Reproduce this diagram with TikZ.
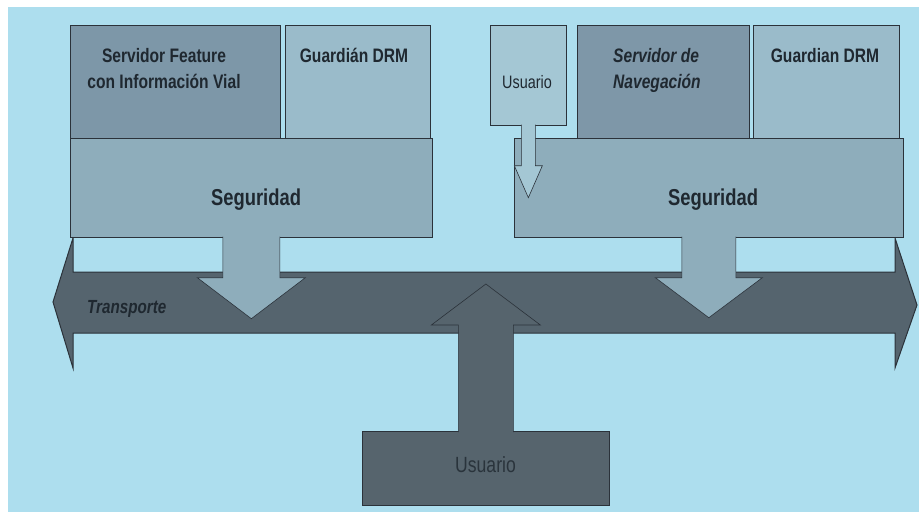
\documentclass[tikz,border=0pt]{standalone}
\usepackage{fontspec}
\setmainfont[FakeStretch=0.8]{Liberation Sans}
\usetikzlibrary{positioning,calc}

\definecolor{fondo}{HTML}{ADDEEE}
\definecolor{transporte}{HTML}{55646E}
\definecolor{seguridad}{HTML}{8EADBB}
\definecolor{feature}{HTML}{7D97A8}
\definecolor{guardian}{HTML}{9ABBCA}
\definecolor{navega}{HTML}{7E97A8}
\definecolor{usuarioS}{HTML}{A4C7D4}
\definecolor{usuarioB}{HTML}{56646D}
\definecolor{borde}{HTML}{2B323A}
\definecolor{letra}{HTML}{1F2830}

\tikzset{
  caja/.style={draw=borde, line width=0.7pt, anchor=north west, inner sep=0pt},
  etiq/.style={text=letra, inner sep=0pt, align=center,
    font=\fontsize{19.5}{26}\selectfont\bfseries},
  etiqseg/.style={text=letra, inner sep=0pt, anchor=base,
    font=\fontsize{23}{27}\selectfont\bfseries},
  flecha/.style={draw=borde, line width=0.6pt},
}

\begin{document}
\begin{tikzpicture}[x=1pt, y=-1pt]
  % fondo
  \useasboundingbox (0,0) rectangle (919,512);
  \fill[white] (0,0) rectangle (919,512);
  \fill[fondo] (8,7) rectangle (919,512);

  % transporte
  \filldraw[fill=transporte, draw=borde, line width=1pt]
    (73,272) -- (895,272) -- (895,238) -- (917,305) -- (895,368)
    -- (895,333) -- (73,333) -- (73,368) -- (53,302) -- (73,238) -- cycle;
  \node[text=letra, inner sep=0pt, anchor=base west,
    font=\fontsize{19}{22}\selectfont\bfseries\itshape] (transp) at (87,313) {Transporte};

  % usuario abajo
  \node[caja, fill=usuarioB, minimum width=247pt, minimum height=74pt] (usrB) at (362,431) {};
  \filldraw[flecha, fill=usuarioB] ([xshift=-27.5pt,yshift=-1pt]usrB.north) -- ++(0,-107)
    -- ++(-27,0) -- ++(54.5,-41) -- ++(54.5,41) -- ++(-27,0) -- ++(0,107);
  \node[text=letra!80!usuarioB, inner sep=0pt, anchor=base,
    font=\fontsize{22}{26}\selectfont] (usrBlbl) at (485.5,472) {Usuario};

  % bloque izquierdo
  \node[caja, fill=feature, minimum width=210pt, minimum height=113pt] (feat) at (70,25) {};
  \node[caja, fill=guardian, minimum width=145pt, minimum height=113pt] (guardL) at (285,25) {};
  \node[caja, fill=seguridad, minimum width=362pt, minimum height=99pt] (segL) at (70,138) {};
  \node[etiq, anchor=north] (featlbl) at (164,48) {Servidor Feature\\con Información Vial};
  \node[etiq, anchor=north] (guardLlbl) at (354,48) {Guardián DRM};
  \node[etiqseg] (segLlbl) at (256,205) {Seguridad};
  \filldraw[flecha, fill=seguridad] ([xshift=-28.5pt,yshift=1pt]segL.south) -- ++(0,41)
    -- ++(-25.5,0) -- ++(54,41) -- ++(54,-41) -- ++(-25.5,0) -- ++(0,-41);

  % bloque derecho
  \node[caja, fill=usuarioS, minimum width=76pt, minimum height=100pt] (usrS) at (490,25) {};
  \node[caja, fill=navega, minimum width=172pt, minimum height=113pt] (nav) at (577,25) {};
  \node[caja, fill=guardian, minimum width=146pt, minimum height=113pt] (guardR) at (753,25) {};
  \node[caja, fill=seguridad, minimum width=389pt, minimum height=99pt] (segR) at (514,138) {};
  \node[text=letra, inner sep=0pt, font=\fontsize{18}{22}\selectfont] (usrSlbl) at (527,82) {Usuario};
  \node[etiq, anchor=north west, align=left, font=\fontsize{19.5}{26}\selectfont\bfseries\itshape]
    (navlbl) at (613,48) {Servidor de\\Navegación};
  \node[etiq, anchor=north] (guardRlbl) at (825,48) {Guardian DRM};
  \node[etiqseg] (segRlbl) at (713,205) {Seguridad};
  \filldraw[flecha, fill=seguridad] ([xshift=-27pt,yshift=1pt]segR.south) -- ++(0,41)
    -- ++(-26.5,0) -- ++(53.5,40) -- ++(53.5,-40) -- ++(-26.5,0) -- ++(0,-41);
  \filldraw[flecha, fill=usuarioS] ([xshift=-7pt,yshift=1pt]usrS.south) -- ++(0,41)
    -- ++(-7,0) -- ++(14,32) -- ++(14,-32) -- ++(-7,0) -- ++(0,-41);
\end{tikzpicture}
\end{document}
